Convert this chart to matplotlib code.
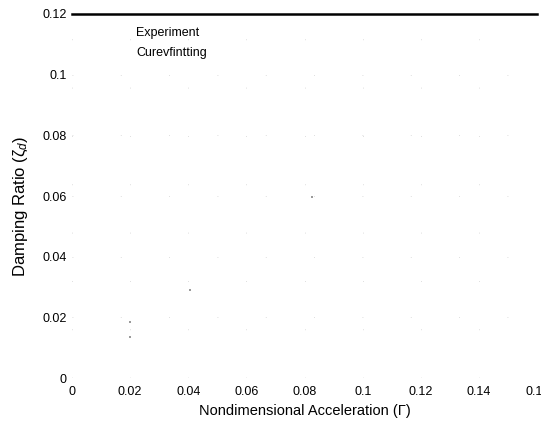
import matplotlib
matplotlib.use("Agg")
import matplotlib.pyplot as plt
from matplotlib.lines import Line2D

plt.rcParams['font.family'] = ['Liberation Sans', 'DejaVu Sans']
plt.rcParams['mathtext.fontset'] = 'custom'
plt.rcParams['mathtext.rm'] = 'Liberation Sans'
plt.rcParams['mathtext.it'] = 'Liberation Sans:italic'

# Faint experimental measurements (acceleration, damping ratio)
exp_gamma = [0.02, 0.02, 0.0405, 0.0826]
exp_zeta = [0.0185, 0.0135, 0.029, 0.0597]

x_ticks = [0, 0.02, 0.04, 0.06, 0.08, 0.1, 0.12, 0.14, 0.16]
x_ticklabels = ['0', '0.02', '0.04', '0.06', '0.08', '0.1', '0.12', '0.14', '0.16']
y_ticks = [0, 0.02, 0.04, 0.06, 0.08, 0.1, 0.12]
y_ticklabels = ['0', '0.02', '0.04', '0.06', '0.08', '0.1', '0.12']
legend_labels = ['Experiment', 'Curevfintting']

fig = plt.figure(figsize=(5.41, 4.28), dpi=100)
ax = fig.add_axes([0.133, 0.1168, 0.860, 0.8505])

ax.scatter(exp_gamma, exp_zeta, s=3, marker='s', color='#9a9a9a', linewidths=0, zorder=3)

ax.set_xlim(0, 0.16)
ax.set_ylim(0, 0.12)
ax.set_xticks(x_ticks)
ax.set_xticklabels(x_ticklabels, fontsize=9)
ax.set_yticks(y_ticks)
ax.set_yticklabels(y_ticklabels, fontsize=9)

# sparse dotted grid
ax.grid(True, color='#d4d4d4', linewidth=0.6, linestyle=(0, (1, 57)))

for side in ['left', 'right', 'bottom']:
    ax.spines[side].set_visible(False)
ax.spines['top'].set_linewidth(1.8)
ax.spines['top'].set_color('black')
ax.tick_params(axis='both', length=0, pad=6)
ax.tick_params(axis='y', pad=4)

ax.set_xlabel('Nondimensional Acceleration (Γ)', fontsize=10.5, labelpad=4)
ax.set_ylabel('Damping Ratio (ζ$_d$)', fontsize=12)
ax.yaxis.set_label_coords(-0.091, 0.47)

handles = [Line2D([], [], color='none', marker='none'),
           Line2D([], [], color='none')]
ax.legend(handles, legend_labels, loc='upper left', bbox_to_anchor=(0.038, 0.995),
          frameon=False, fontsize=9, handlelength=2.0, labelspacing=0.6)

fig.savefig('out.png', dpi=100)
